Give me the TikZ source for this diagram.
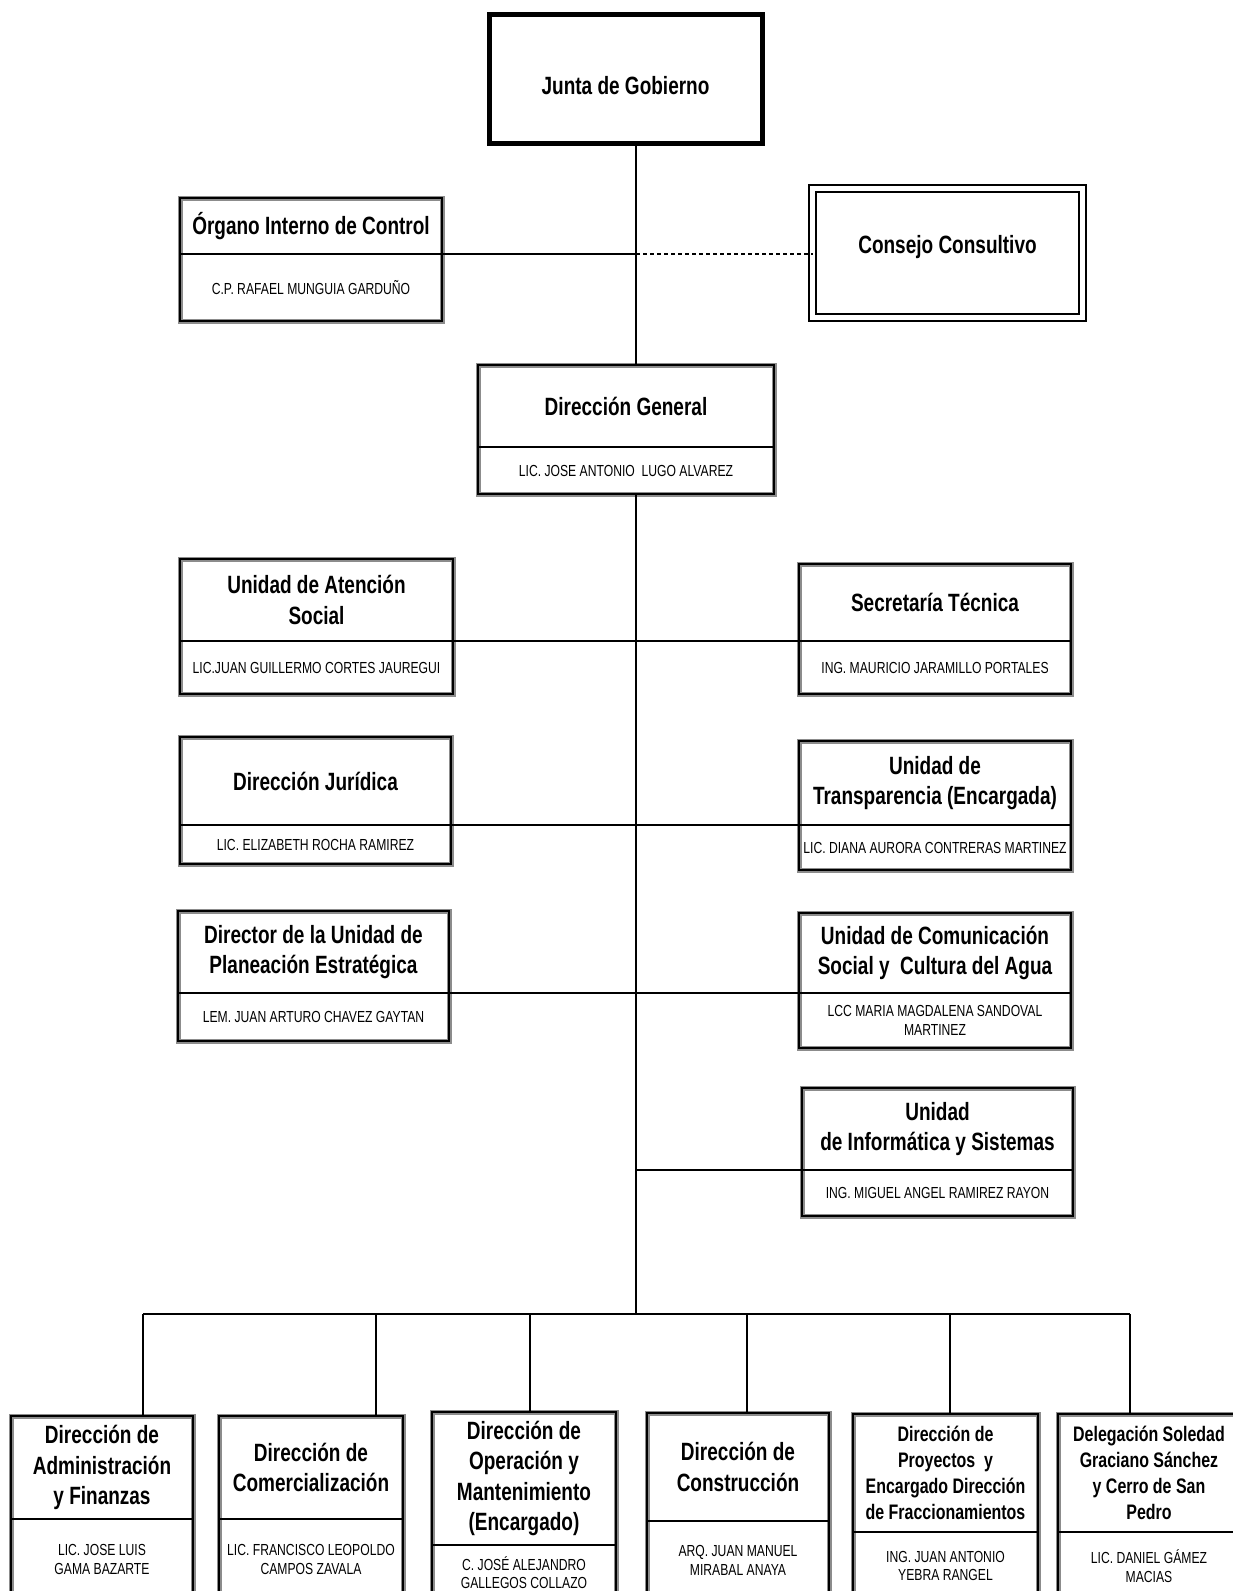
\documentclass[tikz,border=0pt]{standalone}
\usepackage{fontspec}
\setmainfont{Liberation Sans}[FakeStretch=0.76]

\tikzset{
  titulo/.style={inner sep=0pt, outer sep=0pt, align=center,
                 font=\bfseries\fontsize{25}{30.5}\selectfont},
  titulochico/.style={font=\bfseries\fontsize{21}{26}\selectfont},
  nombre/.style={inner sep=0pt, outer sep=0pt, align=center,
                 font=\fontsize{16}{18.5}\selectfont},
  marco/.style={line width=1.6pt, draw=black,
                preaction={draw=black!45, line width=5pt}},
  divisor/.style={line width=1.6pt},
  linea/.style={line width=1.6pt},
}

% caja de puesto: [estilo titulo] nombre, x izq, x der, y arriba, y division, y abajo, titulo, persona
\newcommand{\puesto}[9][]{%
  \node[titulo, #1, minimum width={(#4-#3)*1pt}, minimum height={(#6-#5)*1pt}]
    (#2) at ({(#3+#4)/2},{(#5+#6)/2}) {#8};
  \node[nombre, minimum width={(#4-#3)*1pt}, minimum height={(#7-#6)*1pt}]
    (#2n) at ({(#3+#4)/2},{(#6+#7)/2}) {#9};
  \draw[marco] (#2.north west) rectangle (#2n.south east);
  \draw[divisor] (#2.south west) -- (#2.south east);
}

\begin{document}
\begin{tikzpicture}[x=1pt,y=-1pt]

\clip (0,0) rectangle (1233,1591);
\fill[white] (0,0) rectangle (1233,1591);

% organos de gobierno
\node[titulo, draw, line width=5pt, minimum width=273pt, minimum height=129pt]
  (junta) at (625.5,78.5) {\raisebox{-16pt}[0pt][0pt]{Junta de Gobierno}};
\node[titulo, draw, double, double distance=5pt, line width=2pt,
      minimum width=270pt, minimum height=129pt]
  (consejo) at (947.5,253) {\raisebox{0pt}[0pt][0pt]{Consejo Consultivo}};

\puesto{org}{180}{442}{198}{254}{321}{Órgano Interno de Control}{C.P. RAFAEL MUNGUIA GARDUÑO}
\puesto{dg}{478}{774}{365}{447}{494}{Dirección General}{LIC. JOSE ANTONIO\ \ LUGO ALVAREZ}

% staff
\puesto{aten}{180}{453}{559}{641}{694}{Unidad de Atención\\Social}{LIC.JUAN GUILLERMO CORTES JAUREGUI}
\puesto{secr}{799}{1071}{564}{641}{694}{Secretaría Técnica}{ING. MAURICIO JARAMILLO PORTALES}
\puesto{jur}{180}{451}{737}{825}{864}{Dirección Jurídica}{LIC. ELIZABETH ROCHA RAMIREZ}
\puesto{transp}{799}{1071}{741}{825}{870}{Unidad de\\Transparencia (Encargada)}{LIC. DIANA AURORA CONTRERAS MARTINEZ}
\puesto{plan}{178}{449}{911}{993}{1041}{Director de la Unidad de\\Planeación Estratégica}{LEM. JUAN ARTURO CHAVEZ GAYTAN}
\puesto{comun}{799}{1071}{913}{993}{1048}{Unidad de Comunicación\\Social y\ \ Cultura del Agua}{LCC MARIA MAGDALENA SANDOVAL\\MARTINEZ}
\puesto{inf}{802}{1073}{1088}{1170}{1216}{Unidad\\de Informática y Sistemas}{ING. MIGUEL ANGEL RAMIREZ RAYON}

% direcciones de area
\puesto{adm}{11}{193}{1416}{1519}{1600}{Dirección de\\Administración\\y Finanzas}{LIC. JOSE LUIS\\GAMA BAZARTE}
\puesto{com}{219}{403}{1416}{1519}{1600}{Dirección de\\Comercialización}{LIC. FRANCISCO LEOPOLDO\\CAMPOS ZAVALA}
\puesto{ope}{432}{616}{1412}{1545}{1600}{Dirección de\\Operación y\\Mantenimiento\\(Encargado)}{C. JOSÉ ALEJANDRO\\GALLEGOS COLLAZO}
\puesto{cons}{647}{829}{1413}{1521}{1600}{Dirección de\\Construcción}{ARQ. JUAN MANUEL\\MIRABAL ANAYA}
\puesto[titulochico]{proy}{853}{1038}{1414}{1532}{1600}{Dirección de\\Proyectos\ \ y\\Encargado Dirección\\de Fraccionamientos}{ING. JUAN ANTONIO\\YEBRA RANGEL}
\puesto[titulochico]{deleg}{1058}{1240}{1414}{1532}{1600}{Delegación Soledad\\Graciano Sánchez\\y Cerro de San\\Pedro}{LIC. DANIEL GÁMEZ\\MACIAS}

% lineas de mando
\coordinate (eje) at (636,0);
\coordinate (bus) at (636,1314);
\draw[linea] (eje |- junta.south) -- (eje |- dg.north);
\draw[linea] (org.south east) -- (org.south east -| eje);
\draw[linea, dash pattern=on 4pt off 3pt] (org.south east -| eje) -- (consejo.west |- org.south east);
\draw[linea] (eje |- dgn.south) -- (bus);

\draw[linea] (aten.south east) -- (secr.south west);
\draw[linea] (jur.south east) -- (transp.south west);
\draw[linea] (plan.south east) -- (comun.south west);
\draw[linea] (inf.south west -| eje) -- (inf.south west);

\coordinate (b1) at (143,1314);
\coordinate (b2) at (376,1314);
\coordinate (b3) at (530,1314);
\coordinate (b4) at (747,1314);
\coordinate (b5) at (950,1314);
\coordinate (b6) at (1130,1314);
\draw[linea] (b1) -- (b6);
\foreach \b/\n in {b1/adm, b2/com, b3/ope, b4/cons, b5/proy, b6/deleg}
  \draw[linea] (\b) -- (\b |- \n.north);

\end{tikzpicture}
\end{document}
